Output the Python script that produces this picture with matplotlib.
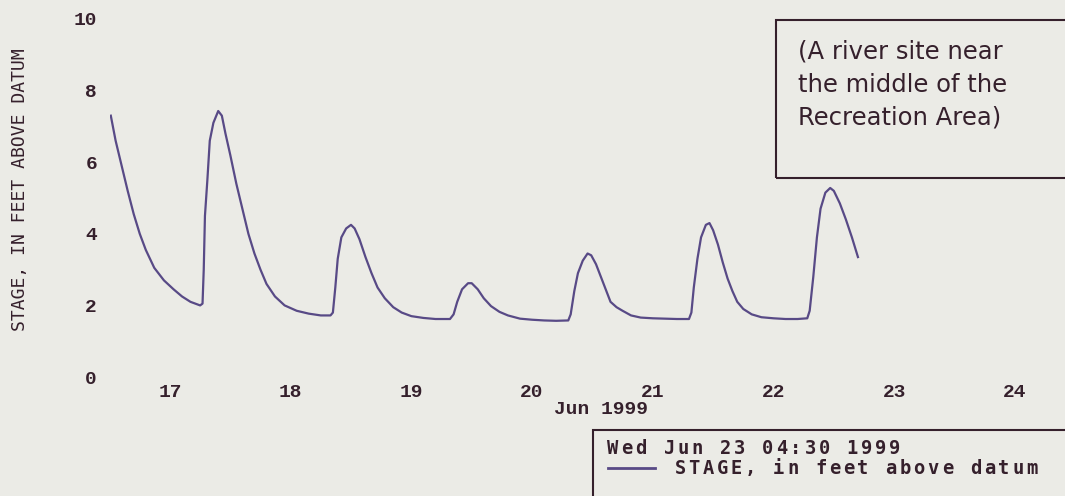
import matplotlib
matplotlib.use("agg")
from matplotlib import pyplot as plt
from matplotlib.patches import Rectangle

# Stage record, days of June 1999 vs feet above datum
days = [16.51, 16.55, 16.60, 16.65, 16.70, 16.75, 16.80, 16.87, 16.95, 17.03,
        17.10, 17.17, 17.25, 17.27, 17.28, 17.29, 17.31, 17.33, 17.36, 17.40,
        17.43, 17.46, 17.50, 17.55, 17.60, 17.65, 17.70, 17.75, 17.80, 17.87,
        17.95, 18.05, 18.15, 18.25, 18.33, 18.35, 18.37, 18.39, 18.42, 18.46,
        18.50, 18.53, 18.57, 18.62, 18.67, 18.72, 18.78, 18.85, 18.92, 19.00,
        19.10, 19.20, 19.32, 19.35, 19.38, 19.42, 19.47, 19.50, 19.55, 19.60,
        19.66, 19.73, 19.80, 19.90, 20.00, 20.10, 20.20, 20.30, 20.32, 20.35,
        20.38, 20.42, 20.46, 20.49, 20.53, 20.57, 20.61, 20.65, 20.70, 20.75,
        20.82, 20.90, 21.00, 21.10, 21.20, 21.30, 21.32, 21.34, 21.37, 21.40,
        21.44, 21.47, 21.50, 21.54, 21.58, 21.62, 21.66, 21.70, 21.75, 21.82,
        21.90, 22.00, 22.10, 22.20, 22.28, 22.30, 22.33, 22.36, 22.39, 22.43,
        22.47, 22.50, 22.55, 22.60, 22.65, 22.70]
stage = [7.30, 6.60, 5.90, 5.20, 4.55, 4.00, 3.55, 3.05, 2.70, 2.45,
         2.25, 2.10, 2.00, 2.05, 3.00, 4.50, 5.50, 6.60, 7.10, 7.43,
         7.30, 6.80, 6.20, 5.40, 4.70, 4.00, 3.45, 3.00, 2.60, 2.25,
         2.00, 1.85, 1.77, 1.72, 1.72, 1.80, 2.50, 3.30, 3.90, 4.15,
         4.25, 4.15, 3.85, 3.35, 2.90, 2.50, 2.20, 1.95, 1.80, 1.70,
         1.65, 1.62, 1.62, 1.75, 2.10, 2.45, 2.62, 2.62, 2.45, 2.20,
         1.98, 1.82, 1.72, 1.63, 1.60, 1.58, 1.57, 1.58, 1.75, 2.40,
         2.90, 3.25, 3.45, 3.40, 3.15, 2.80, 2.45, 2.10, 1.95, 1.85,
         1.72, 1.66, 1.64, 1.63, 1.62, 1.62, 1.80, 2.50, 3.30, 3.90,
         4.25, 4.30, 4.10, 3.70, 3.20, 2.75, 2.40, 2.10, 1.90, 1.75,
         1.67, 1.64, 1.62, 1.62, 1.64, 1.85, 2.80, 3.90, 4.70, 5.15,
         5.28, 5.20, 4.85, 4.40, 3.90, 3.35]

x_ticks = [17, 18, 19, 20, 21, 22, 23, 24]
y_ticks = [0, 2, 4, 6, 8, 10]

bg = "#ebebe6"
ink = "#35202c"
line_color = "#584a86"

fig = plt.figure(figsize=(10.65, 4.96), dpi=100)
fig.set_facecolor(bg)

ax = fig.add_axes((0.1029, 0.2399, 0.8727, 0.7218))
ax.set_facecolor(bg)
ax.plot(days, stage, color=line_color, lw=1.6)
ax.set_xlim(16.5, 24.2)
ax.set_ylim(0, 10)
for s in ax.spines.values():
    s.set_visible(False)

ax.set_xticks(x_ticks)
ax.set_xticklabels([str(t) for t in x_ticks])
ax.set_yticks(y_ticks)
ax.set_yticklabels([str(t) for t in y_ticks])
ax.tick_params(length=0, colors=ink)
ax.tick_params(axis="x", pad=5)
ax.tick_params(axis="y", pad=9)
for lab in ax.get_xticklabels() + ax.get_yticklabels():
    lab.set_fontfamily("Liberation Mono")
    lab.set_fontweight("bold")
    lab.set_fontsize(14)

# Axis titles
fig.text(601 / 1065, 1 - 410 / 496, "Jun 1999", ha="center", va="center",
         family="Liberation Mono", weight="bold", size=14, color=ink)
fig.text(20 / 1065, 1 - 190 / 496, "STAGE, IN FEET ABOVE DATUM", rotation=90,
         ha="center", va="center", family="DejaVu Sans Mono", size=13,
         color=ink)

# Site note box (top right)
fig.patches.append(Rectangle((776 / 1065, 1 - 178 / 496), 0.3, 158 / 496,
                             transform=fig.transFigure, fill=False,
                             edgecolor=ink, lw=1.5))
note_lines = ["(A river site near", "the middle of the", "Recreation Area)"]
for i, txt in enumerate(note_lines):
    fig.text(798 / 1065, 1 - (52 + 33 * i) / 496, txt, ha="left", va="center",
             family="DejaVu Sans", size=17.5, color=ink)

# Legend box (bottom right), monospaced terminal-style text
fig.patches.append(Rectangle((593 / 1065, -0.05), 0.5, 0.05 + 66 / 496,
                             transform=fig.transFigure, fill=False,
                             edgecolor=ink, lw=1.5))


def mono_text(x0, y, text, step=14.07):
    for i, ch in enumerate(text):
        fig.text((x0 + i * step + step / 2) / 1065, 1 - y / 496, ch,
                 ha="center", va="center", family="DejaVu Sans Mono",
                 weight="bold", size=13.5, color=ink)


mono_text(606, 449, "Wed Jun 23 04:30 1999")
mono_text(673, 468, "STAGE, in feet above datum")
fig.lines.append(plt.Line2D([608 / 1065, 655 / 1065],
                            [1 - 468 / 496, 1 - 468 / 496],
                            transform=fig.transFigure, color=line_color, lw=2))

fig.savefig("out.png", dpi=100, facecolor=bg)
